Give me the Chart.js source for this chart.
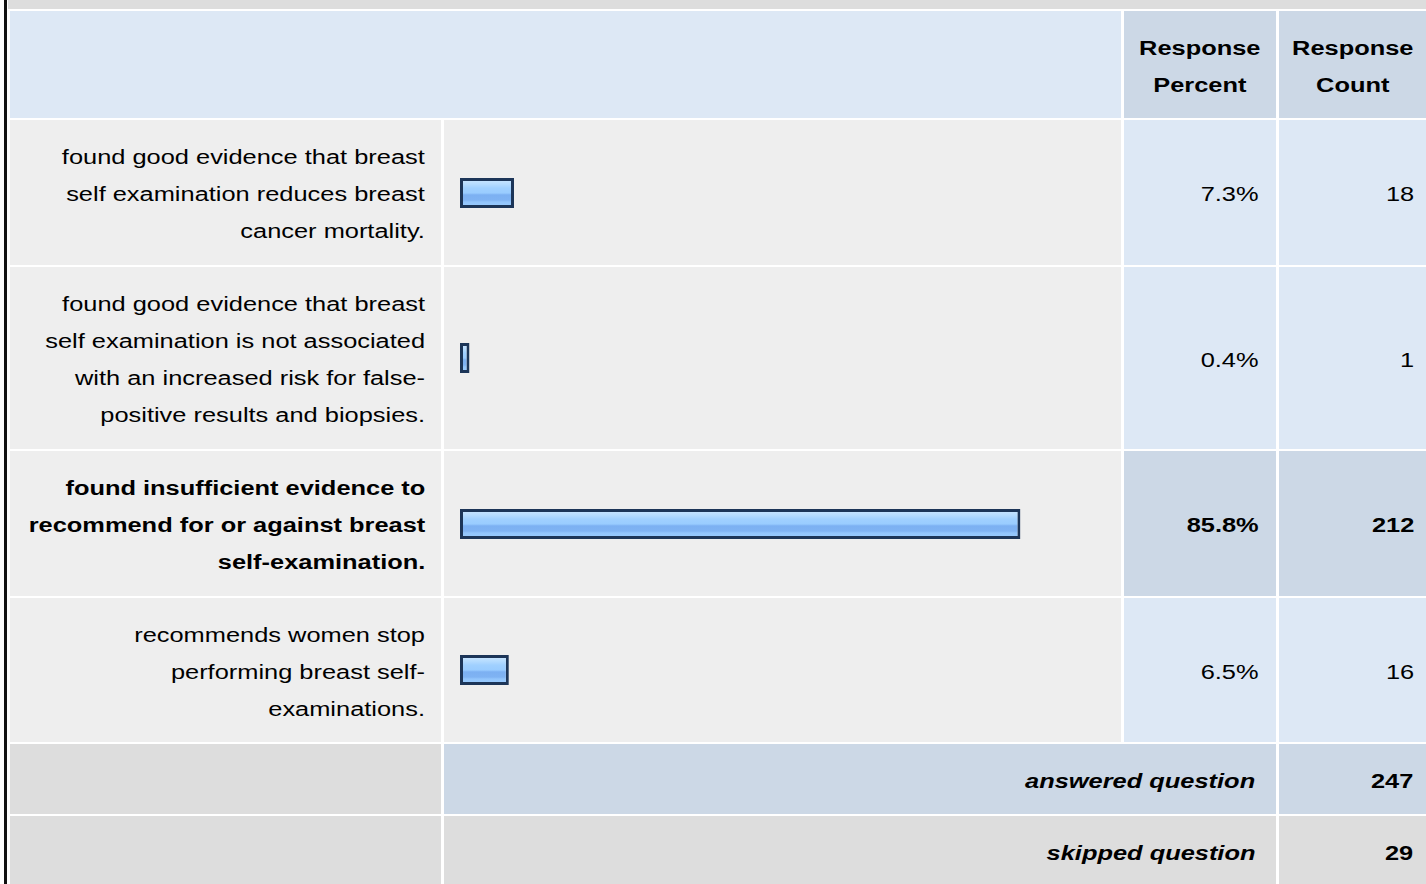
<!DOCTYPE html>
<html>
<head>
<meta charset="utf-8">
<script src="https://cdn.jsdelivr.net/npm/chart.js@4"></script>
<style>
  body { margin: 0; width: 1426px; height: 884px; overflow: hidden; position: relative; background: #fff;
         font-family: "Liberation Sans", Arial, sans-serif; font-size: 20px; color: #000; }
  .leftbar { position: absolute; left: 4px; top: 0; width: 3px; height: 884px; background: #111; }
  .topstrip { position: absolute; left: 8px; top: 0; right: 0; height: 9px; background: #ddd; }
  #grid { position: absolute; left: 10px; top: 11px; display: grid;
          grid-template-columns: 431px 677px 152px 147px;
          grid-template-rows: 107px 145px 182px 145px 144px 70px 70px;
          column-gap: 3px; row-gap: 2px; }
  .cell { display: flex; align-items: center; box-sizing: border-box; position: relative; }
  .right { justify-content: flex-end; }
  .center { justify-content: center; }
  .txt { transform: translateY(2px) scaleX(1.27); transform-origin: right center; text-align: right; line-height: 37px; white-space: nowrap; }
  .center .txt { transform-origin: center center; text-align: center; }
  .b { font-weight: bold; }
  .i { font-style: italic; }
  .bar canvas { position: absolute; left: 16px; top: calc(50% - 16px); }
</style>
</head>
<body>
<div class="leftbar"></div>
<div class="topstrip"></div>
<div id="grid"></div>
<script>
const categories = [
  ["found good evidence that breast", "self examination reduces breast", "cancer mortality."],
  ["found good evidence that breast", "self examination is not associated", "with an increased risk for false-", "positive results and biopsies."],
  ["found insufficient evidence to", "recommend for or against breast", "self-examination."],
  ["recommends women stop", "performing breast self-", "examinations."]
];
const percents = [7.3, 0.4, 85.8, 6.5];
const counts = [18, 1, 212, 16];
const headers = [["Response", "Percent"], ["Response", "Count"]];
const answered = 247;
const skipped = 29;

const grid = document.getElementById("grid");
const best = percents.indexOf(Math.max(...percents));
const barPad = 1.07; // bar border sticks out past zero

function addCell(opts) {
  const d = document.createElement("div");
  d.className = "cell " + (opts.cls || "");
  d.style.background = opts.bg;
  if (opts.span) d.style.gridColumn = "span " + opts.span;
  if (opts.pad != null) d.style.paddingRight = opts.pad + "px";
  if (opts.lines) {
    const t = document.createElement("div");
    t.className = "txt " + (opts.font || "");
    opts.lines.forEach(line => {
      const l = document.createElement("div");
      l.textContent = line;
      t.appendChild(l);
    });
    d.appendChild(t);
  }
  grid.appendChild(d);
  return d;
}

// header row
addCell({ bg: "#dde8f5", span: 2 });
headers.forEach(h => addCell({ bg: "#ccd8e6", cls: "center", lines: h, font: "b" }));

function barFill(ctx) {
  const chart = ctx.chart;
  const area = chart.chartArea;
  if (!area) return "#99ccff";
  const g = chart.ctx.createLinearGradient(0, area.top, 0, area.bottom);
  g.addColorStop(0, "#d4ebff");
  g.addColorStop(0.22, "#b6dcff");
  g.addColorStop(0.35, "#a0d0ff");
  g.addColorStop(0.5, "#99ccff");
  g.addColorStop(0.56, "#7cb0f2");
  g.addColorStop(0.72, "#7fb3f3");
  g.addColorStop(0.78, "#92c5fc");
  g.addColorStop(1, "#9acdff");
  return g;
}

categories.forEach((lines, i) => {
  const hi = i === best;
  addCell({ bg: "#eeeeee", cls: "right", pad: 16, lines: lines, font: hi ? "b" : "" });
  const barCell = addCell({ bg: "#eeeeee", cls: "bar" });
  const canvas = document.createElement("canvas");
  canvas.width = 652;
  canvas.height = 32;
  barCell.appendChild(canvas);
  new Chart(canvas, {
    type: "bar",
    data: {
      labels: [""],
      datasets: [{
        data: [percents[i]],
        base: -barPad,
        backgroundColor: barFill,
        borderColor: "#1c3558",
        borderWidth: 3,
        borderSkipped: false,
        barPercentage: 1,
        categoryPercentage: 0.94
      }]
    },
    options: {
      indexAxis: "y",
      responsive: false,
      animation: false,
      events: [],
      layout: { padding: 0 },
      plugins: { legend: { display: false }, tooltip: { enabled: false } },
      scales: {
        x: { display: false, min: -barPad, max: 100 },
        y: { display: false }
      }
    }
  });
  const valBg = hi ? "#ccd8e6" : "#dde8f5";
  addCell({ bg: valBg, cls: "right", pad: 17, lines: [percents[i].toFixed(1) + "%"], font: hi ? "b" : "" });
  addCell({ bg: valBg, cls: "right", pad: 12, lines: [String(counts[i])], font: hi ? "b" : "" });
});

// summary rows
addCell({ bg: "#dddddd" });
addCell({ bg: "#ccd8e6", span: 2, cls: "right", pad: 21, lines: ["answered question"], font: "b i" });
addCell({ bg: "#ccd8e6", cls: "right", pad: 13, lines: [String(answered)], font: "b" });
addCell({ bg: "#dddddd" });
addCell({ bg: "#dddddd", span: 2, cls: "right", pad: 21, lines: ["skipped question"], font: "b i" });
addCell({ bg: "#dddddd", cls: "right", pad: 13, lines: [String(skipped)], font: "b" });
</script>
</body>
</html>
